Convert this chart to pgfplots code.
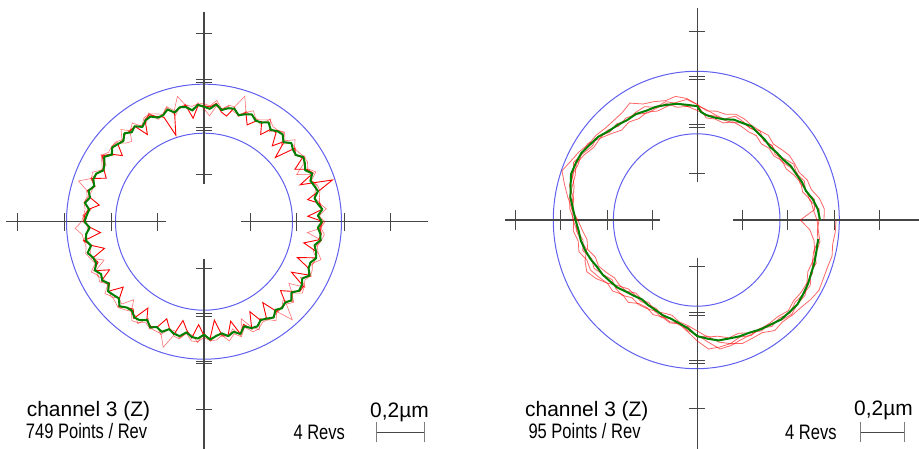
\documentclass[border=0pt]{standalone}
\usepackage{fontspec}
\setmainfont{Liberation Sans}
\usepackage{graphicx}
\usepackage{pgfplots}
\pgfplotsset{compat=1.18}
\usepackage{pgfplotstable}
\definecolor{circblue}{RGB}{95,95,240}
\definecolor{axgray}{RGB}{70,70,70}
\definecolor{tracegreen}{RGB}{0,128,0}
\definecolor{tracered}{RGB}{255,0,0}
\newcommand{\narrowtext}[1]{\scalebox{0.79}[1]{\fontsize{21}{24}\selectfont #1}}

% left plot: angle (deg), green mean, three red revolutions (radius in px)
\pgfplotstableread{
a g r1 r2 r3
0 118 119 121 116
3 114 104 115 116
6 119 119 123 118
9 115 117 117 118
12 113 106 118 113
15 118 119 120 115
18 116 135 119 118
21 114 103 115 115
24 118.5 119.5 122.5 116.5
27 113.5 115.5 116.5 104
30 116.5 105 119.5 114.5
33 118.5 117.5 119.5 120.5
36 113.5 113.5 117.5 112.5
39 114.5 116.5 116.5 117.5
42 117.5 96 122.5 117.5
45 112.5 113.5 114.5 109.5
48 117.5 102 120.5 119.5
51 116.5 114.5 117.5 117.5
54 113.5 114.5 117.5 111.5
57 118.5 104 121.5 122.5
60 114.5 115.5 117.5 112.5
63 113.5 112.5 114.5 115.5
66 117.5 106 121.5 116.5
69 115 117 117 118
72 112 111 132 112
75 117 118 119 114
78 116 108 119 118
81 113 111 114 114
84 118 119 122 116
87 113 115 116 106
90 115 116 118 113
93 117 116 118 119
96 112 104 116 111
99 116 118 118 119
102 117 116 128 117
105 113 114 115 110
108 118 91 121 120
111 114 112 115 115
114 114 115 118 112
117 118 120 121 122
120 117 118 120 115
123 113 104 114 115
126 118 118 122 117
129 115 117 117 118
132 119 118 124 108
135 114 115 116 111
138 116 116 119 118
141 118 105 119 119
144 114 115 118 112
147 119 121 122 123
150 115 116 118 113
153 113 112 114 115
156 118 107 122 117
159 118.5 120.5 120.5 121.5
162 115.5 114.5 132 115.5
165 119.5 120.5 121.5 116.5
168 116.5 116.5 119.5 118.5
171 120.5 106 121.5 121.5
174 115.5 116.5 119.5 113.5
177 117.5 119.5 120.5 121.5
180 119.5 120.5 122.5 117.5
183 114.5 113.5 129 116.5
186 118.5 104 122.5 117.5
189 119.5 121.5 121.5 122.5
192 115.5 114.5 120.5 115.5
195 120.5 103 122.5 117.5
198 116.5 116.5 119.5 118.5
201 115.5 113.5 116.5 107
204 119.5 120.5 123.5 117.5
207 115.5 106 118.5 119.5
210 117.5 118.5 120.5 115.5
213 113.5 112.5 114.5 115.5
216 118.5 118.5 122.5 117.5
219 116.5 104 118.5 119.5
222 114.5 113.5 119.5 114.5
225 119.5 120.5 121.5 116.5
228 115.5 115.5 118.5 105
231 114.5 112.5 115.5 115.5
234 118.5 119.5 122.5 116.5
237 117.5 103 120.5 121.5
240 113.5 114.5 116.5 111.5
243 118.5 117.5 119.5 120.5
246 115.5 115.5 119.5 114.5
249 118 104 120 121
252 113 112 132 113
255 116 117 118 113
258 117 101 120 119
261 112 110 113 113
264 116 117 120 114
267 117 103 120 121
270 113 114 116 111
273 118 117 119 120
276 115 99 119 114
279 113 115 115 116
282 117 116 122 117
285 114 103 116 111
288 118 118 121 120
291 112 110 113 104
294 116.5 117.5 120.5 114.5
297 117.5 101 120.5 121.5
300 113.5 114.5 116.5 111.5
303 115.5 114.5 116.5 117.5
306 118.5 100 122.5 117.5
309 113.5 115.5 115.5 116.5
312 116.5 115.5 132 116.5
315 114.5 115.5 116.5 111.5
318 117.5 103 120.5 119.5
321 112.5 110.5 113.5 113.5
324 117.5 118.5 121.5 105
327 116.5 118.5 119.5 120.5
330 113.5 101 116.5 111.5
333 118.5 117.5 119.5 120.5
336 114.5 114.5 118.5 113.5
339 114 100 116 117
342 118 117 123 118
345 116 117 118 113
348 113 102 116 115
351 118 116 119 119
354 117 118 121 104
357 114 116 117 118
360 118 119 121 116
}\lefttab

% right plot: four red revolutions (radius in px)
\pgfplotstableread{
a A B C D
0 126.7 119.7 103 121.7
5 127.5 116.5 117.5 122.5
10 124 115 119 114
15 118 109 112 113
20 117 110 114 109
25 112.5 106.5 109.5 110.5
30 112.5 102.5 111.5 106.5
35 112.5 103.5 106.5 102.5
40 109.8 99.8 101.8 103.8
45 107.5 101.5 105.5 105.5
50 110.5 99.5 103.5 103.5
55 109 103 109 107
60 109 102 106 106
65 111.5 103.5 108.5 107.5
70 112.5 104.5 110.5 103.5
75 109.5 100.5 104.5 103.5
80 110.5 102.5 106.5 105.5
85 109.5 102.5 110.5 105.5
90 115.5 115.5 114.5 109.5
95 121 122 114 114
100 119.5 125.5 118.5 114.5
105 117.5 123.5 122.5 120.5
110 116 126 120 119
115 119 128 125 118
120 117 135 124 122
125 119.5 131 121.5 124.5
130 117.5 130 125.5 122.5
135 122 130 124 127
140 127 132 130 127
145 126.5 132.5 128.5 133.5
150 130.5 136.5 132.5 133.5
155 133.5 139.5 136.5 131.5
160 130 144 132 133
165 129.5 137.5 132.5 127.5
170 129.5 131.5 125.5 126.5
175 128 126 125 126
180 123.5 119.5 124.5 120.5
185 124.5 115.5 120.5 121.5
190 121 112 116 118
195 122.5 113.5 118.5 114.5
200 117.5 108.5 112.5 119.5
205 118 109 114 122
210 114 105 109 117
215 110 101 104 110
220 110.5 101.5 106.5 102.5
225 105.5 100.5 106.5 97.5
230 107.5 95.5 101.5 97.5
235 102 97 103 99
240 101 96 102 98
245 104.5 100.5 100.5 97.5
250 103 99 104 102
255 106.5 98.5 101.5 105.5
260 105.5 103.5 106.5 104.5
265 112 106 107 111
270 121 111 117 115
275 129.5 117.5 116.5 122.5
280 129 118 124 131
285 128 122 128 130
290 131.5 120.5 124.5 127.5
295 130.5 124.5 127.5 126.5
300 130 128 125 126
305 135 127 130 126
310 132.8 130.8 127.8 125.8
315 134.5 133.5 131.5 128.5
320 135.7 130.7 127.7 125.7
325 138.5 131.5 129.5 126.5
330 140.5 126.5 130.5 126.5
335 139 127 125 122
340 138.5 122.5 126.5 122.5
345 139.5 123.5 121.5 120.5
350 137.5 124.5 118.5 122.5
355 138.5 121.5 113 120.5
360 138.7 119.7 103 121.7
}\righttab

\begin{document}
\begin{tikzpicture}
\path[use as bounding box] (0,0) rectangle (919bp,449bp);

% ---------- left decorations (centre 204,227.3 bp) ----------
\begin{scope}[shift={(204bp,227.3bp)}, x=1bp, y=1bp]
  \draw[circblue, line width=1bp] (0,0) circle[radius=137.5bp];
  \draw[circblue, line width=1bp] (0,0) circle[radius=88.5bp];
  \draw[axgray, line width=1.2bp] (-198,0) -- (-38,0);
  \draw[axgray, line width=1.2bp] (37,0) -- (224,0);
  \draw[axgray, line width=1.2bp] (0,209.7) -- (0,38);
  \draw[axgray, line width=1.2bp] (0,-37) -- (0,-227.3);
  \foreach \t in {-186.7,-140,-92.5,-46.5,46.5,92.5,140,186.7}
    \draw[axgray, line width=1bp] (\t,-9) -- (\t,9);
  \foreach \t in {188.3,46.7,-46.7,-188.3}
    \draw[axgray, line width=1bp] (-8,\t) -- (8,\t);
  \foreach \t in {140.8,93,-93,-140.8}
    {\draw[axgray, line width=1bp] (-8,\t+1.4) -- (8,\t+1.4);
     \draw[axgray, line width=1bp] (-8,\t-1.4) -- (8,\t-1.4);}
\end{scope}

% ---------- right decorations (centre 697.3,229 bp) ----------
\begin{scope}[shift={(697.3bp,229bp)}, x=1bp, y=1bp]
  \draw[circblue, line width=1bp] (-1,0) ellipse[x radius=143bp, y radius=148.7bp];
  \draw[circblue, line width=1bp] (-0.6,0) ellipse[x radius=83.3bp, y radius=86.2bp];
  \draw[axgray, line width=1.2bp] (-192.3,0) -- (-37,0);
  \draw[axgray, line width=1.2bp] (36,0) -- (221.7,0);
  \draw[axgray, line width=1.2bp] (0,212) -- (0,38);
  \draw[axgray, line width=1.2bp] (0,-38) -- (0,-229);
  \foreach \t in {-182,-136.7,-89.7,-45.2,45.2,89.7,136.7,182}
    \draw[axgray, line width=1bp] (\t,-10) -- (\t,10);
  \foreach \t in {188.3,46.7,-46.7,-188.3}
    \draw[axgray, line width=1bp] (-8,\t) -- (8,\t);
  \foreach \t in {141.7,93.7,-93.7,-141.7}
    {\draw[axgray, line width=1bp] (-8,\t+1.4) -- (8,\t+1.4);
     \draw[axgray, line width=1bp] (-8,\t-1.4) -- (8,\t-1.4);}
\end{scope}

% ---------- left data ----------
\begin{axis}[at={(0,0)}, anchor=south west, x=1bp, y=1bp,
  xmin=-204, xmax=255, ymin=-227.3, ymax=221.7, hide axis, clip=false]
  \addplot[data cs=polar, tracered, opacity=0.55, line width=0.6bp] table[x=a, y=r2] {\lefttab};
  \addplot[data cs=polar, tracered, opacity=0.55, line width=0.6bp] table[x=a, y=r3] {\lefttab};
  \addplot[data cs=polar, tracered, line width=0.9bp] table[x=a, y=r1] {\lefttab};
  \addplot[data cs=polar, tracegreen, line width=2bp, line join=round] table[x=a, y=g] {\lefttab};
\end{axis}

% ---------- right data ----------
\begin{axis}[at={(459bp,0)}, anchor=south west, x=1bp, y=1bp,
  xmin=-238.3, xmax=221.7, ymin=-229, ymax=220, hide axis, clip=false]
  \addplot[data cs=polar, tracered, opacity=0.6, line width=0.8bp] table[x=a, y=A] {\righttab};
  \addplot[data cs=polar, tracered, opacity=0.6, line width=0.8bp] table[x=a, y=B] {\righttab};
  \addplot[data cs=polar, tracered, opacity=0.6, line width=0.8bp] table[x=a, y=C] {\righttab};
  \addplot[data cs=polar, tracered, opacity=0.6, line width=0.8bp] table[x=a, y=D] {\righttab};
  \addplot[data cs=polar, tracegreen, line width=2bp, line join=round] coordinates {
    (0,122.7)(5,121.0)(10,117.5)(15,112.5)(20,111.3)(25,109.0)(30,108.0)(35,105.0)
    (40,104.2)(45,103.2)(50,105.0)(55,106.0)(60,108.3)(65,107.0)(70,106.8)(75,104.2)
    (80,103.8)(85,105.2)(88,108)(90,113.8)(95,115.6)(100,118.0)(105,119.2)(110,120.5)
    (115,120.6)(120,122.4)(125,122.1)(130,124.0)(135,125.6)(140,129.4)(145,131.2)
    (150,133.9)(155,134.2)(160,134.3)(165,131.2)(170,128.8)(175,124.7)(180,121.8)
    (185,119.2)(190,118.3)(195,116.2)(200,113.8)(205,110.7)(210,109.3)(215,106.7)
    (220,104.8)(225,101.2)(230,98.8)(235,96.8)(240,98.3)(245,99.2)(250,101.3)
    (255,102.2)(260,104.8)(265,108.7)(270,116.2)(275,119.2)(280,122.3)(285,122.7)
    (290,123.8)(295,124.2)(300,126.3)(305,127.7)(310,130.0)(315,130.3)(320,130.9)
    (325,129.2)(330,127.8)(335,125.7)(340,124.7)(345,123.2)(351,122.4)};
\end{axis}

% ---------- texts and scale bars ----------
\node[anchor=base west, inner sep=0] at (26.7bp,32.3bp) {\fontsize{21}{24}\selectfont channel 3 (Z)};
\node[anchor=base west, inner sep=0] at (25.7bp,10.7bp) {\narrowtext{749 Points / Rev}};
\node[anchor=base west, inner sep=0] at (293.3bp,9.5bp) {\narrowtext{4 Revs}};
\node[anchor=base west, inner sep=0] at (370bp,32bp) {\fontsize{21}{24}\selectfont 0,2µm};
\draw[axgray, line width=0.9bp] (376.7bp,16.5bp) -- (424bp,16.5bp);
\draw[axgray!70, line width=0.9bp] (376.7bp,6.5bp) -- (376.7bp,26.5bp);
\draw[axgray!70, line width=0.9bp] (424bp,6.5bp) -- (424bp,26.5bp);

\node[anchor=base west, inner sep=0] at (525bp,32.3bp) {\fontsize{21}{24}\selectfont channel 3 (Z)};
\node[anchor=base west, inner sep=0] at (528.3bp,10.7bp) {\narrowtext{95 Points / Rev}};
\node[anchor=base west, inner sep=0] at (785bp,9.5bp) {\narrowtext{4 Revs}};
\node[anchor=base west, inner sep=0] at (854bp,34bp) {\fontsize{21}{24}\selectfont 0,2µm};
\draw[axgray, line width=0.9bp] (860bp,17bp) -- (904bp,17bp);
\draw[axgray!70, line width=0.9bp] (860bp,7bp) -- (860bp,27bp);
\draw[axgray!70, line width=0.9bp] (904bp,7bp) -- (904bp,27bp);
\end{tikzpicture}
\end{document}
